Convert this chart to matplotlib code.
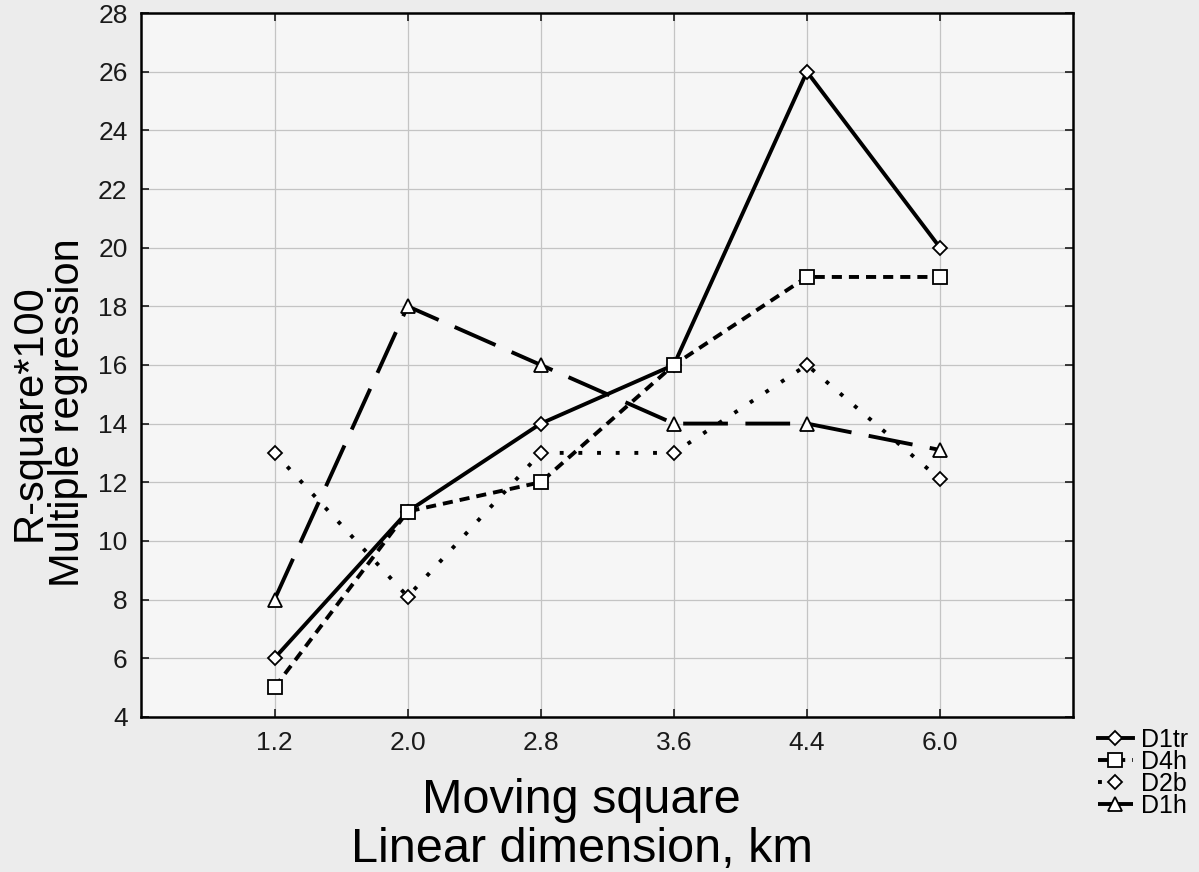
import numpy as np
import matplotlib
matplotlib.use("Agg")
from matplotlib import pyplot as plt

# moving square, linear dimension (km) - plotted as equally spaced categories
sizes = ["1.2", "2.0", "2.8", "3.6", "4.4", "6.0"]

d1tr = [6.0, 11.0, 14.0, 16.0, 26.0, 20.0]
d4h = [5.0, 11.0, 12.0, 16.0, 19.0, 19.0]
d2b = [13.0, 8.1, 13.0, 13.0, 16.0, 12.1]
d1h = [8.0, 18.0, 16.0, 14.0, 14.0, 13.1]

yticks = list(range(4, 29, 2))

plt.rcParams['font.family'] = ['Liberation Sans', 'DejaVu Sans']

fig = plt.figure(figsize=(11.99, 8.72), dpi=100, facecolor='#ececec')
ax = fig.add_axes([0.118, 0.178, 0.777, 0.807])
ax.set_facecolor('#f6f6f6')

x = np.arange(len(sizes))
mk = dict(markerfacecolor='white', markeredgecolor='black', markeredgewidth=1.3)
lw = 2.8

ax.plot(x, d1tr, color='black', lw=lw, marker='D', ms=7.5, label='D1tr', **mk)
ax.plot(x, d4h, color='black', lw=lw, marker='s', ms=9.5, label='D4h',
        dashes=(2.6, 1.8), **mk)
ax.plot(x, d2b, color='black', lw=lw, marker='D', ms=7.5, label='D2b',
        dashes=(1.0, 3.8), **mk)
ax.plot(x, d1h, color='black', lw=lw, marker='^', ms=10, label='D1h',
        dashes=(11.5, 4.5), **mk)

ax.set_xlim(-1, 6)
ax.set_ylim(4, 28)
ax.set_xticks(x)
ax.set_xticklabels(sizes)
ax.set_yticks(yticks)
ax.grid(True, color='#c4c4c4', lw=0.9)
ax.set_axisbelow(True)
ax.tick_params(direction='in', length=6, width=1.2, labelsize=19, pad=10,
               top=True, right=True, colors='#1a1a1a')
for s in ax.spines.values():
    s.set_linewidth(1.8)

fig.text(0.041, 0.527, "R-square*100\nMultiple regression", rotation=90,
         ha='center', va='center', fontsize=30, linespacing=0.95)
fig.text(0.485, 0.0677, "Moving square", ha='center', va='baseline', fontsize=35)
fig.text(0.485, 0.0115, "Linear dimension, km", ha='center', va='baseline',
         fontsize=35)

ax.legend(loc='upper left', bbox_to_anchor=(0.905, 0.18),
          bbox_transform=fig.transFigure, frameon=False, fontsize=18,
          handlelength=1.4, handletextpad=0.35, labelspacing=-0.08,
          borderpad=0.0)

fig.savefig("out.png", dpi=100, facecolor=fig.get_facecolor())
